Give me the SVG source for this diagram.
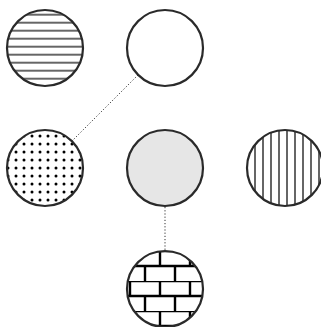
<svg xmlns="http://www.w3.org/2000/svg" width="321" height="327" viewBox="0 0 321 327">
<style>
.node{stroke:#2a2a2a;stroke-width:2.2}
.conn{stroke:#333;stroke-width:1;stroke-dasharray:1.2 2;fill:none}
</style>
<defs>
<pattern id="hlines" patternUnits="userSpaceOnUse" x="0" y="0.7" width="8" height="8"><rect width="8" height="8" fill="#fff"/><line x1="0" y1="6" x2="8" y2="6" stroke="#333" stroke-width="1.5"/></pattern>
<pattern id="vlines" patternUnits="userSpaceOnUse" x="0" y="0" width="8" height="8"><rect width="8" height="8" fill="#fff"/><line x1="7" y1="0" x2="7" y2="8" stroke="#333" stroke-width="1.5"/></pattern>
<pattern id="dots" patternUnits="userSpaceOnUse" x="0" y="0" width="8" height="8"><rect width="8" height="8" fill="#fff"/><circle cx="0" cy="0" r="1.5" fill="#000"/><circle cx="8" cy="0" r="1.5" fill="#000"/><circle cx="0" cy="8" r="1.5" fill="#000"/><circle cx="8" cy="8" r="1.5" fill="#000"/></pattern>
<pattern id="bricks" patternUnits="userSpaceOnUse" x="145" y="251" width="30" height="30"><rect width="30" height="30" fill="#fff"/><path d="M0 0H30M0 15H30M15 0V15M0 15V30M30 15V30" stroke="#000" stroke-width="2.4" fill="none"/></pattern>
</defs>
<g id="connectors">
<line class="conn" x1="138" y1="75" x2="72" y2="141"/>
<line class="conn" x1="165" y1="207" x2="165" y2="251"/>
</g>
<g id="node-hlines"><circle class="node" cx="45" cy="48" r="38" fill="url(#hlines)"/></g>
<g id="node-plain"><circle class="node" cx="165" cy="48" r="38" fill="#fff"/></g>
<g id="node-dots"><circle class="node" cx="45" cy="168" r="38" fill="url(#dots)"/></g>
<g id="node-gray"><circle class="node" cx="165" cy="168" r="38" fill="#e6e6e6"/></g>
<g id="node-vlines"><circle class="node" cx="285" cy="168" r="38" fill="url(#vlines)"/></g>
<g id="node-bricks"><circle class="node" cx="165" cy="289" r="38" fill="url(#bricks)"/></g>
</svg>
